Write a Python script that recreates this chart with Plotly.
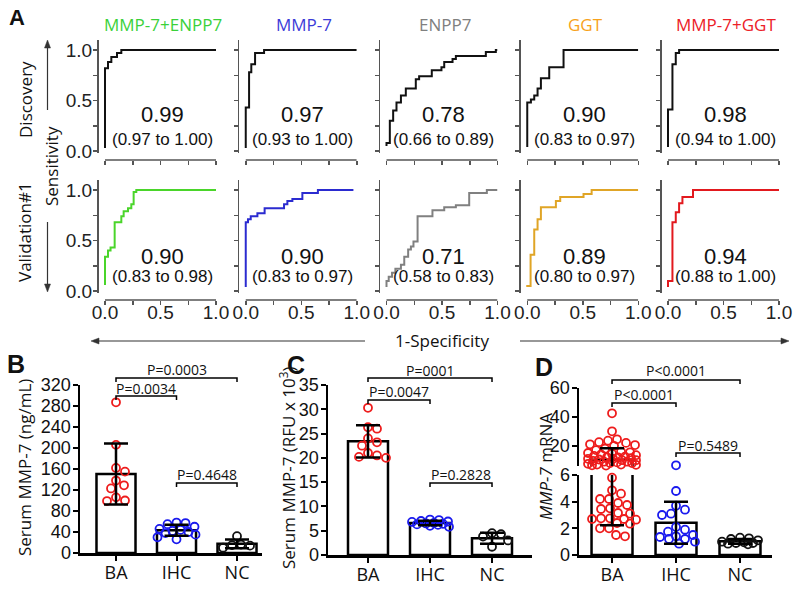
import numpy as np
import plotly.graph_objects as go

W, H = 800, 589
def PX(x): return x / W
def PY(y): return 1 - y / H

NUM = "Liberation Sans, Arial, sans-serif"
TXT = "Open Sans, Liberation Sans, sans-serif"

# ---------------- Panel A data (ROC step curves) ----------------
roc_titles = ["MMP-7+ENPP7", "MMP-7", "ENPP7", "GGT", "MMP-7+GGT"]
title_colors = ["#3ad13a", "#3b3bd8", "#808080", "#f7a21b", "#ec2027"]
val_colors = ["#4ad52a", "#2b2bd0", "#808080", "#e0a526", "#e2191e"]

disc_auc = ["0.99", "0.97", "0.78", "0.90", "0.98"]
disc_ci = ["(0.97 to 1.00)", "(0.93 to 1.00)", "(0.66 to 0.89)", "(0.83 to 0.97)", "(0.94 to 1.00)"]
val_auc = ["0.90", "0.90", "0.71", "0.89", "0.94"]
val_ci = ["(0.83 to 0.98)", "(0.83 to 0.97)", "(0.58 to 0.83)", "(0.80 to 0.97)", "(0.88 to 1.00)"]

d1_fpr = [0, 0.027, 0.057, 0.108, 0.147, 1.0]
d1_tpr = [0.03, 0.82, 0.88, 0.93, 0.97, 1.0]
d2_fpr = [0, 0.03, 0.05, 0.084, 0.165, 1.0]
d2_tpr = [0.03, 0.43, 0.78, 0.86, 0.97, 1.0]
d3_fpr = [0, 0.03, 0.06, 0.09, 0.13, 0.174, 0.264, 0.294, 0.408, 0.495, 0.52, 0.595, 0.625, 0.895, 0.985, 1.0]
d3_tpr = [0.05, 0.08, 0.30, 0.40, 0.48, 0.55, 0.62, 0.71, 0.74, 0.80, 0.83, 0.88, 0.91, 0.94, 0.98, 1.0]
d4_fpr = [0, 0.033, 0.063, 0.093, 0.123, 0.198, 0.327, 1.0]
d4_tpr = [0.04, 0.48, 0.51, 0.55, 0.62, 0.72, 0.83, 1.0]
d5_fpr = [0, 0.04, 0.07, 0.10, 1.0]
d5_tpr = [0.04, 0.41, 0.86, 0.97, 1.0]

v1_fpr = [0, 0.027, 0.05, 0.087, 0.147, 0.168, 0.207, 0.237, 0.258, 0.282, 1.0]
v1_tpr = [0.06, 0.34, 0.40, 0.43, 0.68, 0.74, 0.79, 0.82, 0.86, 0.98, 1.0]
v2_fpr = [0, 0.02, 0.045, 0.105, 0.17, 0.345, 0.375, 0.42, 0.51, 0.65, 0.97]
v2_tpr = [0.04, 0.68, 0.71, 0.74, 0.77, 0.82, 0.86, 0.89, 0.91, 0.97, 1.0]
v3_fpr = [0, 0.02, 0.05, 0.08, 0.13, 0.16, 0.195, 0.22, 0.243, 0.28, 0.414, 0.52, 0.625, 0.745, 0.904, 1.0]
v3_tpr = [0.04, 0.10, 0.14, 0.18, 0.22, 0.26, 0.34, 0.41, 0.44, 0.49, 0.74, 0.80, 0.83, 0.85, 0.97, 1.0]
v4_fpr = [0, 0.03, 0.063, 0.093, 0.123, 0.258, 0.297, 0.507, 0.58, 1.0]
v4_tpr = [0.04, 0.05, 0.36, 0.61, 0.71, 0.83, 0.89, 0.93, 0.96, 1.0]
v5_fpr = [0, 0.04, 0.07, 0.10, 0.13, 0.225, 1.0]
v5_tpr = [0.04, 0.10, 0.68, 0.78, 0.87, 0.93, 1.0]

disc_curves = [(d1_fpr, d1_tpr), (d2_fpr, d2_tpr), (d3_fpr, d3_tpr), (d4_fpr, d4_tpr), (d5_fpr, d5_tpr)]
val_curves = [(v1_fpr, v1_tpr), (v2_fpr, v2_tpr), (v3_fpr, v3_tpr), (v4_fpr, v4_tpr), (v5_fpr, v5_tpr)]

# ---------------- Panels B-D data ----------------
groups = ["BA", "IHC", "NC"]
b_ba = [287, 206, 162, 155, 138, 129, 123, 106, 100, 99]
b_ihc = [58, 57, 55, 50, 46, 44, 42, 40, 38, 35, 30, 26]
b_nc = [32, 16, 15, 14, 10]
b_ticks = [0, 40, 80, 120, 160, 200, 240, 280, 320]
b_pvals = ["P=0.0003", "P=0.0034", "P=0.4648"]

c_ba = [30.3, 26.3, 26.0, 24.0, 23.2, 22.5, 21.0, 20.5, 20.2, 20.0]
c_ihc = [7.3, 7.2, 7.0, 6.9, 6.8, 6.6, 6.5, 6.4, 6.3, 6.2, 6.0, 5.8]
c_nc = [4.5, 4.3, 3.8, 3.0, 1.7]
c_ticks = [0, 5, 10, 15, 20, 25, 30, 35]
c_pvals = ["P=0001", "P=0.0047", "P=0.2828"]

d_ba = [42.5, 30.0, 24.5, 23.5, 22.5, 22.0, 21.0, 20.5, 20.0, 18.0, 17.0, 16.0, 15.5, 15.0, 14.5,
        14.0, 13.5, 13.0, 12.5, 12.0, 12.0, 11.5, 11.0, 11.0, 10.5, 10.0, 10.0, 9.5, 9.0, 9.0,
        8.5, 8.0, 8.0, 7.5, 7.0, 7.0, 6.8, 6.5, 6.3, 5.8, 4.85, 4.6, 4.2, 4.2, 3.9, 3.75, 3.5,
        3.45, 3.15, 3.1, 2.75, 2.75, 2.7, 2.7, 2.65, 2.4, 2.35, 2.0, 2.0, 1.5, 1.4]
d_ihc = [6.5, 4.8, 3.7, 3.4, 3.1, 3.0, 2.1, 1.9, 1.75, 1.5, 1.4, 1.35, 1.2, 1.2, 1.0, 0.85]
d_nc = [1.3, 1.25, 1.2, 1.1, 1.0, 0.95, 0.9, 0.9, 0.85, 0.8]
d_ticks_low = [0, 2, 4, 6]
d_ticks_high = [20, 40, 60]
d_pvals = ["P<0.0001", "P<0.0001", "P=0.5489"]

point_colors = ["#ee1c1c", "#1a1aee", "#111111"]

# ---------------- figure ----------------
fig = go.Figure()
layout = dict(width=W, height=H, margin=dict(l=0, r=0, t=0, b=0, pad=0, autoexpand=False),
              paper_bgcolor="white", plot_bgcolor="rgba(0,0,0,0)",
              showlegend=False, barmode="overlay")
shapes = []
annos = []

def axn(prefix, k):
    return prefix + ("" if k == 1 else str(k))

# ---- Panel A ----
ROC_X0, ROC_DX, ROC_W, YOFF = 105.0, 140.75, 111.0, 6.5
ROWS = [dict(y1=50, y0=151, top=40, bot=153, xl=160, auc=115, ci=139),
        dict(y1=190, y0=291, top=180, bot=293, xl=300, auc=256, ci=276)]
tv = [0, 0.25, 0.5, 0.75, 1.0]
tt = ["0.0", "", "0.5", "", "1.0"]
for r in range(2):
    R = ROWS[r]
    ppu = R["y0"] - R["y1"]
    for c in range(5):
        k = r * 5 + c + 1
        x0 = ROC_X0 + ROC_DX * c
        xl = x0 - YOFF
        layout[axn("xaxis", k)] = dict(
            domain=[PX(xl), PX(x0 + ROC_W)], range=[(xl - x0) / ROC_W, 1.0],
            anchor="free", position=PY(R["xl"]), showline=False, showgrid=False,
            zeroline=False, ticks="outside", ticklen=4, tickwidth=1.5, tickcolor="#555",
            tickvals=tv, ticktext=tt, showticklabels=(r == 1), automargin=False,
            ticklabelstandoff=-9,
            tickfont=dict(family=NUM, size=19, color="#222"), fixedrange=True)
        layout[axn("yaxis", k)] = dict(
            domain=[PY(R["bot"]), PY(R["top"])],
            range=[-(R["bot"] - R["y0"]) / ppu, 1 + (R["y1"] - R["top"]) / ppu],
            anchor=axn("x", k), showline=True, linecolor="#555", linewidth=1.5,
            showgrid=False, zeroline=False, ticks="outside", ticklen=4, tickwidth=1.5,
            tickcolor="#555", tickvals=tv, ticktext=tt, showticklabels=(c == 0),
            automargin=False, ticklabelstandoff=-3,
            tickfont=dict(family=NUM, size=19, color="#222"), fixedrange=True)
        fx, fy = (disc_curves if r == 0 else val_curves)[c]
        col = "#111111" if r == 0 else val_colors[c]
        fig.add_trace(go.Scatter(x=fx, y=fy, mode="lines",
                                 line=dict(color=col, width=2, shape="vh"),
                                 xaxis=axn("x", k), yaxis=axn("y", k), hoverinfo="skip"))
        shapes.append(dict(type="line", xref=axn("x", k), yref="paper", x0=0, x1=1,
                           y0=PY(R["xl"]), y1=PY(R["xl"]), line=dict(color="#555", width=1.5)))
        auc = (disc_auc if r == 0 else val_auc)[c]
        ci = (disc_ci if r == 0 else val_ci)[c]
        annos.append(dict(xref="paper", yref="paper", x=PX(x0 + 57), y=PY(R["auc"]), text=auc,
                          showarrow=False, font=dict(family=NUM, size=22, color="#111"),
                          xanchor="center", yanchor="middle"))
        annos.append(dict(xref="paper", yref="paper", x=PX(x0 + 57), y=PY(R["ci"]), text=ci,
                          showarrow=False, font=dict(family=NUM, size=17, color="#111"),
                          xanchor="center", yanchor="middle"))
        if r == 0:
            annos.append(dict(xref="paper", yref="paper", x=PX(x0 + 58), y=PY(25),
                              text=roc_titles[c], showarrow=False,
                              font=dict(family=TXT, size=17, color=title_colors[c]),
                              xanchor="center", yanchor="middle"))

def txt(x, y, s, size=17, family=TXT, angle=0, color="#111", bold=False):
    if bold:
        s = "<b>" + s + "</b>"
    annos.append(dict(xref="paper", yref="paper", x=PX(x), y=PY(y), text=s, showarrow=False,
                      textangle=angle, font=dict(family=family, size=size, color=color),
                      xanchor="center", yanchor="middle"))

txt(17, 17, "A", size=22, family=NUM, bold=True)
txt(25, 100, "Discovery", angle=-90)
txt(51, 166, "Sensitivity", angle=-90)
txt(25, 232, "Validation#1", angle=-90)
txt(442, 340, "1-Specificity")
txt(16, 364, "B", size=25, family=NUM, bold=True)
txt(296, 365, "C", size=25, family=NUM, bold=True)
txt(544, 367, "D", size=25, family=NUM, bold=True)

AC = "#333"
def hline(xa, xb, y):
    shapes.append(dict(type="line", xref="paper", yref="paper", x0=PX(xa), x1=PX(xb),
                       y0=PY(y), y1=PY(y), line=dict(color=AC, width=1.2)))
def vline(x, ya, yb):
    shapes.append(dict(type="line", xref="paper", yref="paper", x0=PX(x), x1=PX(x),
                       y0=PY(ya), y1=PY(yb), line=dict(color=AC, width=1.2)))
def tri(pts):
    p = "M " + " L ".join(f"{PX(a)},{PY(b)}" for a, b in pts) + " Z"
    shapes.append(dict(type="path", xref="paper", yref="paper", path=p,
                       fillcolor=AC, line=dict(color=AC, width=0.5)))

hline(97, 365, 341); tri([(91, 341), (99, 338), (99, 344)])
hline(520, 783, 341); tri([(789, 341), (781, 338), (781, 344)])
vline(47.5, 110, 46); tri([(47.5, 40), (44.5, 48), (50.5, 48)])
vline(47.5, 222, 286); tri([(47.5, 292), (44.5, 284), (50.5, 284)])

# ---- bar panels ----
def swarm(vals, ypix, pxu, maxoff, dmin=9.0):
    cands = [0.0]
    s = 1.0
    while s <= maxoff:
        cands += [s, -s]
        s += 1.0
    placed, out = [], []
    for v in vals:
        y = ypix(v)
        best, bestd = 0.0, -1.0
        for cx in cands:
            md = min([((cx - a) ** 2 + (y - b) ** 2) ** 0.5 for a, b in placed], default=1e9)
            if md >= dmin:
                best = cx
                break
            if md > bestd:
                bestd, best = md, cx
        placed.append((best, y))
        out.append(best / pxu)
    return out

def bar_axes(kx, ky, xdom, xr, ydom, yr, ytv, show_x=True, show_y=True):
    layout[axn("xaxis", kx)] = dict(
        domain=[PX(xdom[0]), PX(xdom[1])], range=xr, anchor=axn("y", ky),
        showline=show_x, linecolor="black", linewidth=2.5, showgrid=False, zeroline=False,
        ticks="outside" if show_x else "", ticklen=5, tickwidth=2, tickcolor="black",
        tickvals=[0, 1, 2], ticktext=groups, showticklabels=show_x, automargin=False,
        ticklabelstandoff=-3,
        tickfont=dict(family=TXT, size=18, color="#111"), fixedrange=True)
    layout[axn("yaxis", ky)] = dict(
        domain=[PY(ydom[0]), PY(ydom[1])], range=yr, anchor=axn("x", kx),
        showline=show_y, linecolor="black", linewidth=2.5, showgrid=False, zeroline=False,
        ticks="outside", ticklen=5, tickwidth=2, tickcolor="black", tickvals=ytv,
        automargin=False, ticklabelstandoff=-2,
        tickfont=dict(family=NUM, size=18, color="#111"), fixedrange=True)

def add_bar(kx, ky, i, vals, bw):
    fig.add_trace(go.Bar(x=[i], y=[float(np.mean(vals))], width=bw,
                         marker=dict(color="white", line=dict(color="black", width=2.5)),
                         xaxis=axn("x", kx), yaxis=axn("y", ky), hoverinfo="skip"))

def add_err(kx, ky, i, vals):
    m = float(np.mean(vals)); sd = float(np.std(vals, ddof=1))
    fig.add_trace(go.Scatter(x=[i], y=[m], mode="markers",
                             marker=dict(size=1, color="rgba(0,0,0,0)"),
                             error_y=dict(type="data", array=[sd], visible=True, color="black",
                                          thickness=2.5, width=12),
                             xaxis=axn("x", kx), yaxis=axn("y", ky), hoverinfo="skip"))

def add_pts(kx, ky, xs, ys, color):
    fig.add_trace(go.Scatter(x=xs, y=ys, mode="markers",
                             marker=dict(symbol="circle-open", size=8, color=color,
                                         line=dict(width=1.8, color=color)),
                             cliponaxis=False, xaxis=axn("x", kx), yaxis=axn("y", ky),
                             hoverinfo="skip"))

def bracket(kx, a, b, yb, yt, s):
    shapes.append(dict(type="path", xref=axn("x", kx), yref="paper",
                       path=f"M {a},{PY(yb + 4)} L {a},{PY(yb)} L {b},{PY(yb)} L {b},{PY(yb + 4)}",
                       line=dict(color="black", width=1.5)))
    annos.append(dict(xref=axn("x", kx), yref="paper", x=(a + b) / 2, y=PY(yt), text=s,
                      showarrow=False, font=dict(family=TXT, size=14, color="#111"),
                      xanchor="center", yanchor="middle"))

# Panel B
bar_axes(11, 11, (80, 262), [-0.595, 2.413], (553, 385), [0, 320], b_ticks)
b_ypix = lambda v: 553 - v * 168 / 320
for i, vals in enumerate([b_ba, b_ihc, b_nc]):
    add_bar(11, 11, i, vals, 0.645)
for i, vals in enumerate([b_ba, b_ihc, b_nc]):
    xs = swarm(vals, b_ypix, 60.5, 19)
    add_pts(11, 11, [i + d for d in xs], vals, point_colors[i])
for i, vals in enumerate([b_ba, b_ihc, b_nc]):
    add_err(11, 11, i, vals)
bracket(11, 0, 2, 378, 369, b_pvals[0])
bracket(11, 0, 1, 396, 388, b_pvals[1])
bracket(11, 1, 2, 483, 475, b_pvals[2])
txt(25, 468, "Serum MMP-7 (ng/mL)", size=17, angle=-90)

# Panel C
bar_axes(12, 12, (328, 532), [-0.645, 2.645], (555, 385), [0, 35], c_ticks)
c_ypix = lambda v: 555 - v * 170 / 35
for i, vals in enumerate([c_ba, c_ihc, c_nc]):
    add_bar(12, 12, i, vals, 0.645)
for i, vals in enumerate([c_ba, c_ihc, c_nc]):
    xs = swarm(vals, c_ypix, 62.0, 19)
    add_pts(12, 12, [i + d for d in xs], vals, point_colors[i])
for i, vals in enumerate([c_ba, c_ihc, c_nc]):
    add_err(12, 12, i, vals)
bracket(12, 0, 2, 378, 370, c_pvals[0])
bracket(12, 0, 1, 400, 391, c_pvals[1])
bracket(12, 1, 2, 483, 475, c_pvals[2])
txt(288, 468, "Serum MMP-7 (RFU x 10<sup>3</sup>)", size=17, angle=-90)

# Panel D (broken axis: lower 0-6, upper 6-60)
bar_axes(13, 13, (579, 772), [-0.516, 2.5], (555, 475), [0, 6], d_ticks_low)
bar_axes(14, 14, (579, 772), [-0.516, 2.5], (466, 388), [6, 60], d_ticks_high, show_x=False)
def d_ypix(v):
    return 466 - (v - 6) * 78 / 54 if v >= 6 else 555 - v * 80 / 6
for i, vals in enumerate([d_ba, d_ihc, d_nc]):
    add_bar(13, 13, i, vals, 0.64)
    add_bar(14, 14, i, vals, 0.64)
for i, vals in enumerate([d_ba, d_ihc, d_nc]):
    xs = swarm(vals, d_ypix, 64.0, 24 if i == 0 else 19)
    lo = [(i + d, v) for d, v in zip(xs, vals) if v < 6]
    hi = [(i + d, v) for d, v in zip(xs, vals) if v >= 6]
    if lo:
        add_pts(13, 13, [a for a, _ in lo], [b for _, b in lo], point_colors[i])
    if hi:
        add_pts(14, 14, [a for a, _ in hi], [b for _, b in hi], point_colors[i])
for i, vals in enumerate([d_ba, d_ihc, d_nc]):
    add_err(13, 13, i, vals)
    add_err(14, 14, i, vals)
bracket(13, 0, 2, 380, 371, d_pvals[0])
bracket(13, 0, 1, 403, 394, d_pvals[1])
bracket(13, 1, 2, 453, 445, d_pvals[2])
txt(545, 467, "<i>MMP-7</i> mRNA", size=17, angle=-90)

layout["shapes"] = shapes
layout["annotations"] = annos
fig.update_layout(**layout)
fig.write_html("out.html", config={"displayModeBar": False, "staticPlot": True},
               post_script="document.body.style.margin='0px';document.body.style.overflow='hidden';")
